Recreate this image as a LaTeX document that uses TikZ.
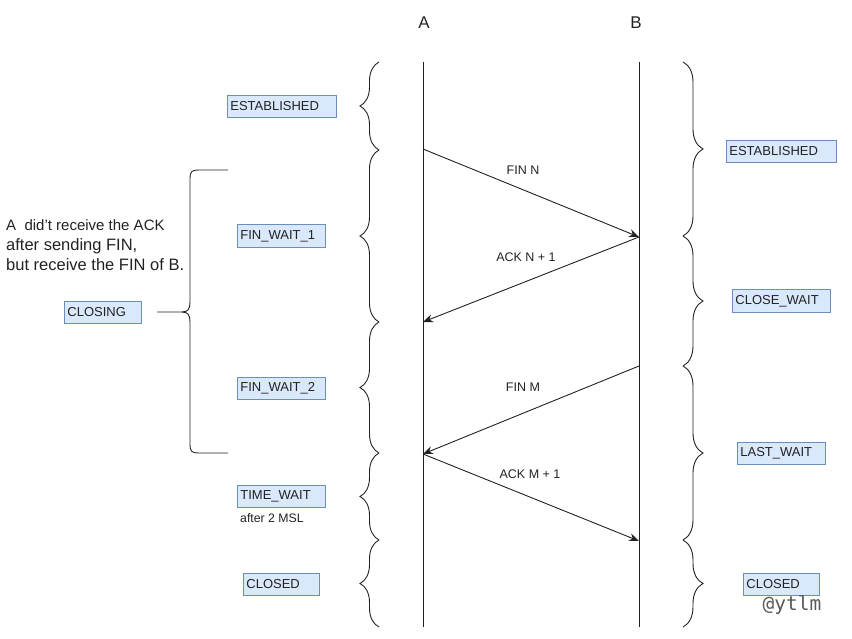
\documentclass[tikz,border=0pt]{standalone}
\usepackage{fontspec}
\setmainfont{Liberation Sans}
\setmonofont{DejaVu Sans Mono}
\usetikzlibrary{arrows.meta,decorations.pathreplacing}
\definecolor{boxfill}{HTML}{DAE8FC}
\definecolor{boxline}{HTML}{6C8EBF}
\definecolor{ink}{HTML}{222222}
\tikzset{
  statebox/.style={draw=boxline, fill=boxfill, line width=0.8pt, anchor=north west,
    inner xsep=3pt, inner ysep=0pt, align=left, font=\fontsize{13}{15}\selectfont, text=ink},
  lifeline/.style={draw=ink, line width=0.9pt},
  msg/.style={draw=ink, line width=0.9pt, -{Stealth[length=10pt,width=8pt]}},
  msglabel/.style={font=\fontsize{12.5}{14}\selectfont, text=ink, inner sep=0pt},
  lbrace/.style={draw=ink, line width=0.9pt, decorate, decoration={brace, amplitude=19pt}},
  rbrace/.style={draw=ink, line width=0.9pt, decorate, decoration={brace, amplitude=20pt}},
  notetext/.style={anchor=base west, text=ink, inner sep=0pt},
}
\begin{document}
\begin{tikzpicture}[x=1pt,y=-1pt]
\useasboundingbox (0,0) rectangle (852,639);

% lifeline headers
\node[font=\fontsize{17}{19}\selectfont, text=ink] (A) at (424,23) {A};
\node[font=\fontsize{17}{19}\selectfont, text=ink] (B) at (636,23) {B};

\coordinate (aTop) at (423,62);
\coordinate (aBot) at (423,627);
\coordinate (bTop) at (639,62);
\coordinate (bBot) at (639,627);
\draw[lifeline] (aTop) -- (aBot);
\draw[lifeline] (bTop) -- (bBot);

% message points
\coordinate (a1) at (423,149);
\coordinate (b1) at (639,237);
\coordinate (a2) at (423,322);
\coordinate (b2) at (639,366);
\coordinate (a3) at (423,454);
\coordinate (b3) at (639,541);

\draw[msg] (a1) -- (b1);
\draw[msg] (b1) -- (a2);
\draw[msg] (b2) -- (a3);
\draw[msg] (a3) -- (b3);

\node[msglabel] (l1) at (523,170) {FIN N};
\node[msglabel] (l2) at (526,257) {ACK N + 1};
\node[msglabel] (l3) at (523,387) {FIN M};
\node[msglabel] (l4) at (530,474) {ACK M + 1};

% left braces (A side)
\draw[lbrace] (379,150) -- (379,62);
\draw[lbrace] (379,322) -- (379,150);
\draw[lbrace] (379,453) -- (379,322);
\draw[lbrace] (379,540) -- (379,453);
\draw[lbrace] (379,627) -- (379,540);

% right braces (B side)
\draw[rbrace] (683,62) -- (683,236);
\draw[rbrace] (683,236) -- (683,366);
\draw[rbrace] (683,366) -- (683,540);
\draw[rbrace] (683,540) -- (683,627);

% big brace
\draw[draw=ink, line width=0.9pt]
  (228,170) -- (198,170) .. controls (192,170) and (190,172) .. (190,178)
  -- (190,302) .. controls (190,309) and (188,312) .. (182,312) -- (157,312);
\draw[draw=ink, line width=0.9pt]
  (228,453) -- (198,453) .. controls (192,453) and (190,451) .. (190,445)
  -- (190,322) .. controls (190,315) and (188,312) .. (182,312);

% state boxes, A side
\node[statebox, text width=103pt, minimum height=22pt] (estL) at (227,95) {ESTABLISHED};
\node[statebox, text width=82pt, minimum height=23pt] (fw1) at (237,224) {FIN\_WAIT\_1};
\node[statebox, text width=71pt, minimum height=22pt] (closing) at (64,301) {CLOSING};
\node[statebox, text width=82pt, minimum height=22pt] (fw2) at (237,377) {FIN\_WAIT\_2};
\node[statebox, text width=82pt, minimum height=22pt] (tw) at (237,485) {TIME\_WAIT};
\node[statebox, text width=70pt, minimum height=22pt] (closedL) at (243,573) {CLOSED};

% state boxes, B side
\node[statebox, text width=104pt, minimum height=22pt] (estR) at (726,140) {ESTABLISHED};
\node[statebox, text width=92pt, minimum height=23pt] (cw) at (732,289) {CLOSE\_WAIT};
\node[statebox, text width=82pt, minimum height=22pt] (lw) at (737,442) {LAST\_WAIT};
\node[statebox, text width=70pt, minimum height=22pt] (closedR) at (743,573) {CLOSED};

% notes
\node[anchor=west, font=\fontsize{12.3}{14}\selectfont, text=ink, inner sep=0pt] (msl) at (240,518) {after 2 MSL};
\node[notetext, font=\fontsize{15}{17}\selectfont] (note1) at (6,231) {A\ \ did't receive the ACK};
\node[notetext, font=\fontsize{16.5}{19}\selectfont] (note2) at (6,251) {after sending FIN,};
\node[notetext, font=\fontsize{16.5}{19}\selectfont] (note3) at (6,271) {but receive the FIN of B.};

\node[font=\ttfamily\fontsize{19.5}{21}\selectfont, text=black!65] (wm) at (792,605) {@ytlm};
\end{tikzpicture}
\end{document}
